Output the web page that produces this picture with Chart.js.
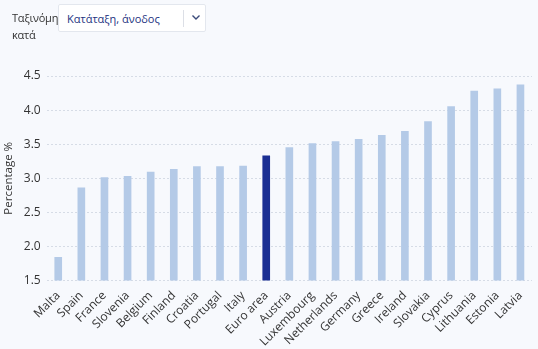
<!DOCTYPE html>
<html>
<head>
<meta charset="utf-8">
<script src="https://cdn.jsdelivr.net/npm/chart.js@4"></script>
<style>
  html, body { margin:0; padding:0; background:#f7f9fd; width:538px; height:349px; overflow:hidden; font-family:"Open Sans", sans-serif; }
  #wrap { position:absolute; left:0; top:0; width:538px; height:349px; }
  #sortLabel { position:absolute; left:12px; top:9px; width:60px; font-size:11px; line-height:17px; color:#333; letter-spacing:-0.2px; }
  #sel { position:absolute; left:58px; top:4px; width:148px; height:28px; background:#fff; border:1px solid #e3e7ee; border-radius:2px; box-sizing:border-box; z-index:2; }
  #sel .txt { position:absolute; left:8px; top:6px; font-size:11px; color:#23337f; }
  #sel .sep { position:absolute; left:124px; top:5px; width:1px; height:17px; background:#dcdfe6; }
  #sel .chev { position:absolute; left:131px; top:6px; }
</style>
</head>
<body>
<div id="wrap"><canvas id="c" width="538" height="349"></canvas></div>
<div id="sortLabel">Ταξινόμηση<br>κατά</div>
<div id="sel"><span class="txt">Κατάταξη, άνοδος</span><span class="sep"></span>
<svg class="chev" width="12" height="12" viewBox="0 0 12 12"><path d="M2.5 4.5 L6 8 L9.5 4.5" fill="none" stroke="#3a4a7a" stroke-width="1.4"/></svg></div>
<script>
const categories = ["Malta","Spain","France","Slovenia","Belgium","Finland","Croatia","Portugal","Italy","Euro area","Austria","Luxembourg","Netherlands","Germany","Greece","Ireland","Slovakia","Cyprus","Lithuania","Estonia","Latvia"];
const values = [1.84,2.86,3.01,3.03,3.09,3.13,3.17,3.17,3.18,3.33,3.45,3.51,3.54,3.57,3.63,3.69,3.83,4.05,4.28,4.31,4.37];
const highlight = "Euro area";
const yTicks = [1.5,2.0,2.5,3.0,3.5,4.0,4.5];

const colors = categories.map(c => c === highlight ? "#1b2f93" : "#b4cae7");

new Chart(document.getElementById("c"), {
  type: "bar",
  data: {
    labels: categories,
    datasets: [{ data: values, backgroundColor: colors, barThickness: 7, borderWidth: 0 }]
  },
  options: {
    responsive: false,
    animation: false,
    plugins: { legend: { display: false }, tooltip: { enabled: false } },
    layout: { padding: { top: 76, right: 6, left: 2, bottom: 0 } },
    scales: {
      y: {
        min: yTicks[0], max: yTicks[yTicks.length - 1],
        afterBuildTicks: ax => { ax.ticks = yTicks.map(v => ({ value: v })); },
        ticks: { color: "#333", font: { family: "Open Sans", size: 12 }, padding: 6, callback: v => Number(v).toFixed(1) },
        grid: { color: "#d6dce6", drawTicks: false },
        border: { display: false, dash: [2,2] },
        title: { display: true, text: "Percentage %", color: "#333", font: { family: "Open Sans", size: 11.5 }, padding: { top: 0, bottom: 2 } }
      },
      x: {
        grid: { display: false },
        border: { display: false },
        ticks: { color: "#333", font: { family: "Open Sans", size: 12 }, minRotation: 45, maxRotation: 45, padding: 0, autoSkip: false }
      }
    }
  }
});
</script>
</body>
</html>
